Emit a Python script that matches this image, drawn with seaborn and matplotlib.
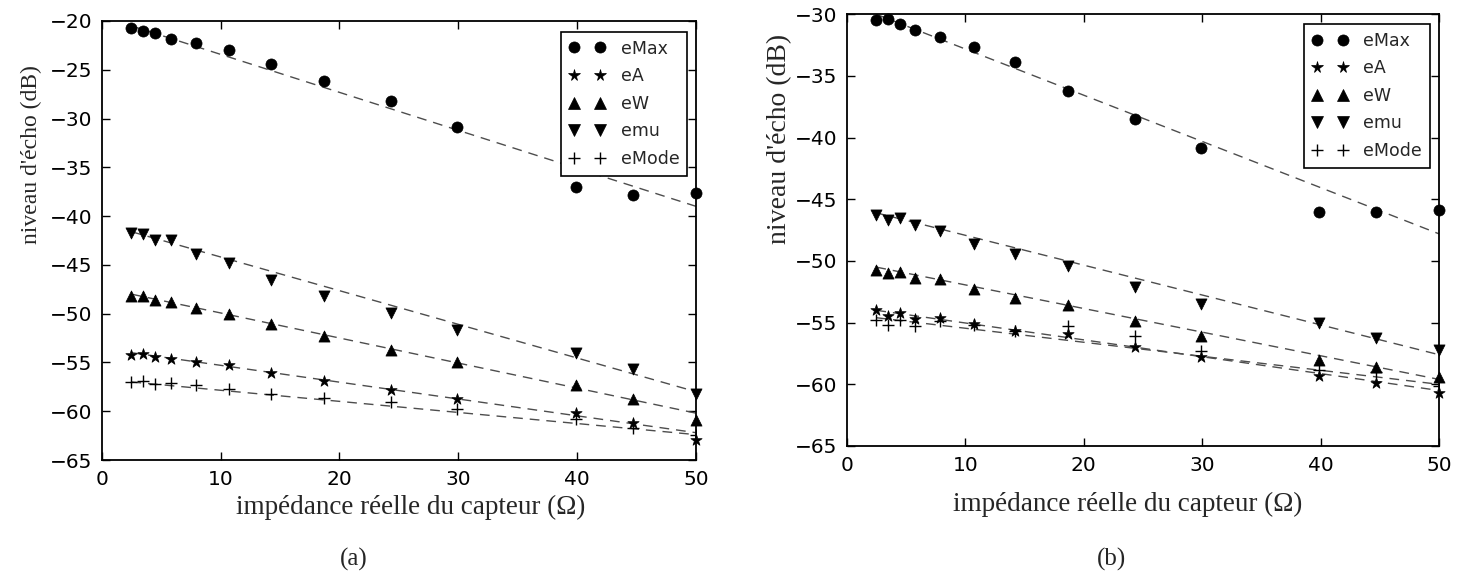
import numpy as np
import pandas as pd
import matplotlib
matplotlib.use("Agg")
import matplotlib.pyplot as plt
from matplotlib.lines import Line2D
import seaborn as sns

# ---------------- data ----------------
impedance = [2.5, 3.5, 4.5, 5.8, 7.9, 10.7, 14.2, 18.7, 24.3, 29.9, 39.9, 44.7, 50.0]
series_names = ["eMax", "eA", "eW", "emu", "eMode"]

# panel (a)
a_eMax = [-20.7, -21.0, -21.2, -21.8, -22.3, -23.0, -24.4, -26.1, -28.2, -30.9, -37.0, -37.8, -37.6]
a_eA = [-54.2, -54.1, -54.4, -54.6, -55.0, -55.3, -56.1, -56.9, -57.8, -58.7, -60.2, -61.2, -62.9]
a_eW = [-48.2, -48.2, -48.6, -48.8, -49.4, -50.0, -51.1, -52.3, -53.7, -55.0, -57.3, -58.7, -60.9]
a_emu = [-41.7, -41.8, -42.4, -42.5, -43.9, -44.8, -46.5, -48.2, -49.9, -51.7, -54.0, -55.7, -58.2]
a_eMode = [-57.05, -56.9, -57.2, -57.1, -57.3, -57.7, -58.2, -58.6, -59.1, -59.8, -60.8, -61.7, -62.4]
# linear trend lines of panel (a): value at first and last impedance
a_fit_start = [-20.5, -54.0, -48.0, -41.6, -57.0]
a_fit_end = [-39.0, -62.2, -60.2, -58.0, -62.4]

# panel (b)
b_eMax = [-30.5, -30.4, -30.8, -31.3, -31.8, -32.65, -33.9, -36.2, -38.5, -40.8, -46.0, -46.0, -45.9]
b_eA = [-54.0, -54.5, -54.2, -54.7, -54.6, -55.1, -55.7, -55.9, -57.0, -57.8, -59.3, -59.9, -60.7]
b_eW = [-50.7, -51.0, -50.9, -51.4, -51.5, -52.3, -53.0, -53.6, -54.9, -56.1, -58.0, -58.6, -59.4]
b_emu = [-46.3, -46.7, -46.55, -47.1, -47.6, -48.6, -49.4, -50.4, -52.1, -53.5, -55.0, -56.25, -57.2]
b_eMode = [-54.8, -55.2, -54.8, -55.3, -54.9, -55.2, -55.7, -55.3, -56.1, -57.3, -58.85, -59.0, -60.1]
b_fit_start = [-30.0, -54.0, -50.5, -46.1, -54.6]
b_fit_end = [-47.8, -60.5, -59.6, -57.6, -60.0]

x_ticks = [0, 10, 20, 30, 40, 50]
a_yticks = [-65, -60, -55, -50, -45, -40, -35, -30, -25, -20]
b_yticks = [-65, -60, -55, -50, -45, -40, -35, -30]
xlabel = "impédance réelle du capteur (Ω)"
ylabel = "niveau d'écho (dB)"

# ---------------- style ----------------
sns.set_style("ticks")
plt.rcParams["font.family"] = ["DejaVu Sans"]
serif = ["Liberation Serif", "DejaVu Serif"]

markers = {"eMax": "o", "eA": "*", "eW": "^", "emu": "v", "eMode": "+"}
msizes = {"eMax": 8.0, "eA": 8.5, "eW": 8.0, "emu": 8.0, "eMode": 8.0}

fig = plt.figure(figsize=(14.66, 5.72), dpi=100)
ax_a = fig.add_axes([0.0694, 0.1958, 0.4054, 0.7675])
ax_b = fig.add_axes([0.5776, 0.2203, 0.4040, 0.7547])


def draw(ax, values, fit_start, fit_end, yticks, ylim, leg_anchor, ylab_size, xlab_coords, ylab_coords):
    for name, vals, y0, y1 in zip(series_names, values, fit_start, fit_end):
        fit_df = pd.DataFrame({"x": [impedance[0], impedance[-1]], "y": [y0, y1]})
        sns.lineplot(data=fit_df, x="x", y="y", ax=ax, color="0.3", lw=1.0,
                     linestyle=(0, (7, 5)), legend=False, zorder=2)
    for name, vals in zip(series_names, values):
        df = pd.DataFrame({"x": impedance, "y": vals})
        m = markers[name]
        ms = msizes[name]
        if m == "+":
            sns.scatterplot(data=df, x="x", y="y", ax=ax, marker=m, s=ms ** 2,
                            color="black", linewidth=1.0, legend=False, zorder=3)
        else:
            sns.scatterplot(data=df, x="x", y="y", ax=ax, marker=m, s=ms ** 2,
                            color="black", edgecolor="black", linewidth=0.5,
                            legend=False, zorder=3, clip_on=False)
    ax.set_xlim(0, 50)
    ax.set_ylim(*ylim)
    ax.set_xticks(x_ticks)
    ax.set_yticks(yticks)
    ax.set_yticklabels([f"\u2212{abs(v)}" for v in yticks])
    ax.tick_params(direction="in", top=True, right=True, length=6, width=1.0,
                   labelsize=14.5, pad=7, colors="black")
    for sp in ax.spines.values():
        sp.set_visible(True)
        sp.set_linewidth(1.3)
        sp.set_color("black")
    ax.set_xlabel(xlabel, fontsize=19.5, family=serif)
    ax.set_ylabel(ylabel, fontsize=ylab_size, family=serif)
    ax.xaxis.set_label_coords(*xlab_coords)
    ax.yaxis.set_label_coords(*ylab_coords)
    handles = [Line2D([], [], marker=markers[n], ls="none", color="black",
                      ms=msizes[n], mew=1.0 if markers[n] == "+" else 0.5) for n in series_names]
    leg = ax.legend(handles, series_names, loc="upper right", bbox_to_anchor=leg_anchor,
                    numpoints=2, fontsize=12.5, frameon=True, fancybox=False,
                    borderaxespad=0, borderpad=0.45, labelspacing=0.55,
                    handlelength=2.1, handletextpad=0.9)
    leg.get_frame().set_edgecolor("black")
    leg.get_frame().set_linewidth(1.2)
    leg.get_frame().set_alpha(1)


draw(ax_a, [a_eMax, a_eA, a_eW, a_emu, a_eMode], a_fit_start, a_fit_end, a_yticks, (-65, -20),
     (0.9854, 0.9756), 17, (0.519, -0.08), (-0.101, 0.695))
draw(ax_b, [b_eMax, b_eA, b_eW, b_emu, b_eMode], b_fit_start, b_fit_end, b_yticks, (-65, -30),
     (0.9848, 0.9775), 20, (0.475, -0.106), (-0.093, 0.711))

fig.text(354 / 1466, 1 - 559 / 572, "(a)", ha="center", va="center", fontsize=18, family=serif)
fig.text(1112 / 1466, 1 - 559 / 572, "(b)", ha="center", va="center", fontsize=18, family=serif)

fig.savefig("out.png", dpi=100, facecolor="white")
